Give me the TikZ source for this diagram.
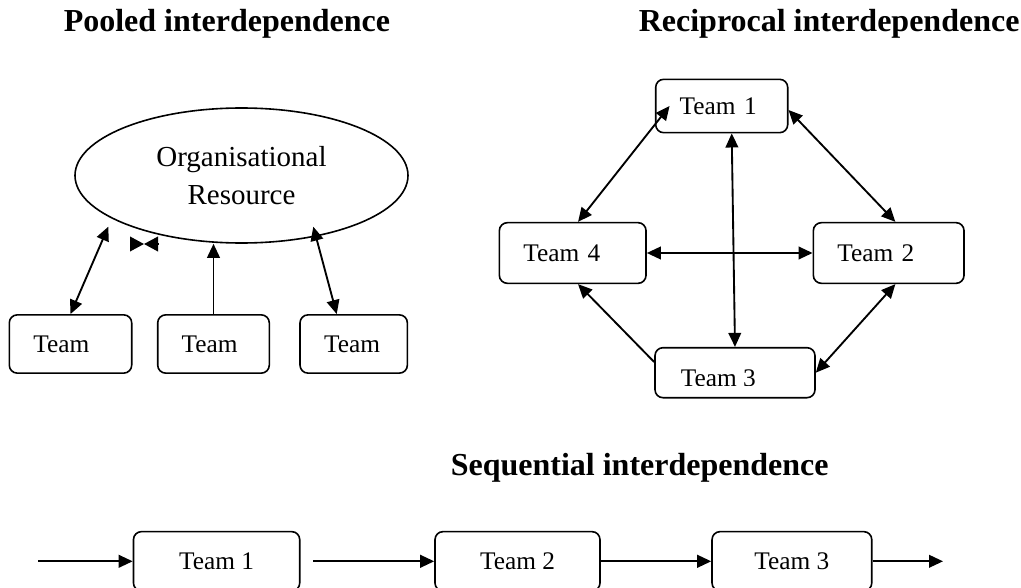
\documentclass[tikz,border=0pt]{standalone}
\usepackage{fontspec}
\setmainfont{Liberation Serif}
\usetikzlibrary{arrows.meta,shapes.geometric}

\begin{document}
\begin{tikzpicture}[x=0.75pt, y=-0.75pt, line width=1.2pt,
	>={Triangle[length=10.5pt,width=9.5pt]},
	title/.style={anchor=base west, inner sep=0pt, font=\fontsize{24}{28}\selectfont\bfseries},
	teambox/.style={draw, rounded corners=6pt, inner xsep=18pt, align=left, font=\fontsize{19}{22}\selectfont},
	seqbox/.style={draw, rounded corners=6pt, minimum height=44.5pt, font=\fontsize{19}{22}\selectfont},
	link/.style={line width=1.4pt}]
	\useasboundingbox (0,0) rectangle (1021,588);
	\node[title] (pooledT) at (63,31.7) {Pooled interdependence};
	\node[title] (reciT) at (638,31.7) {Reciprocal interdependence};
	\node[title] (seqT) at (450,475) {Sequential interdependence};

	% pooled
	\node[ellipse, draw, minimum width=249.75pt, minimum height=101.25pt, inner sep=0pt, align=center, font=\fontsize{21.75}{28.5}\selectfont] (res) at (241.5,175.5) {Organisational\\Resource};
	\node[teambox, text width=55.8pt, minimum height=43.7pt] (p1) at (70.5,344) {Team};
	\node[teambox, text width=47.7pt, minimum height=43.7pt] (p2) at (213.5,344) {Team};
	\node[teambox, text width=44.5pt, minimum height=43.7pt] (p3) at (353.7,344) {Team};
	\coordinate (e1) at (108.3,226.7);
	\coordinate (e3) at (313.3,226.7);
	\draw[link,<->] (p1.north) -- (e1);
	\draw[link,->] (p2.north) -- (p2.north |- res.south);
	\draw[link,<->] ([xshift=-12.75pt]p3.north) -- (e3);
	\coordinate (bowL) at (130,244);
	\coordinate (bowM) at (144,244);
	\coordinate (bowR) at (158,244);
	\draw[-{Triangle[length=10.5pt,width=11pt]}] (bowL) -- (bowM);
	\draw[-{Triangle[length=10.5pt,width=11pt]}] (bowR) -- (bowM);

	% reciprocal
	\node[teambox, text width=63pt, minimum height=40pt] (r1) at (721.7,106) {Team 1};
	\node[teambox, text width=74pt, minimum height=45.5pt] (r4) at (572.7,253) {Team 4};
	\node[teambox, text width=77pt, minimum height=45.5pt] (r2) at (888.7,253) {Team 2};
	\node[draw, rounded corners=6pt, minimum width=120pt, minimum height=37.5pt] (r3) at (735,372.7) {};
	\begin{scope}
		\clip (640,340) rectangle (830,385.5);
		\node[anchor=base west, inner sep=0pt, font=\fontsize{19}{22}\selectfont] (r3txt) at (680,386.5) {Team 3};
	\end{scope}
	\draw[link,<->] ([xshift=11pt]r1.west) -- ([xshift=4pt]r4.north);
	\draw[link,<->] ([yshift=-3pt]r1.east) -- ([xshift=5pt]r2.north);
	\draw[link,<->] ([xshift=7.5pt]r1.south) -- (r3.north);
	\draw[link,<->] (r4.east) -- (r2.west);
	\draw[link,->] ([yshift=8pt]r3.west) -- ([xshift=4pt]r4.south);
	\draw[link,<->] ([xshift=5pt]r2.south) -- (r3.east);

	% sequential
	\node[seqbox, minimum width=124.7pt] (s1) at (216.6,561.3) {Team 1};
	\node[seqbox, minimum width=123.75pt] (s2) at (517.5,561.3) {Team 2};
	\node[seqbox, minimum width=119.8pt] (s3) at (791.9,561.3) {Team 3};
	\coordinate (in) at (38,561.3);
	\coordinate (out) at (943,561.3);
	\draw[link,->] (in) -- (s1);
	\draw[link,->] ([xshift=9.5pt]s1.east) -- (s2);
	\draw[link,->] (s2) -- (s3);
	\draw[link,->] (s3) -- (out);
\end{tikzpicture}
\end{document}
